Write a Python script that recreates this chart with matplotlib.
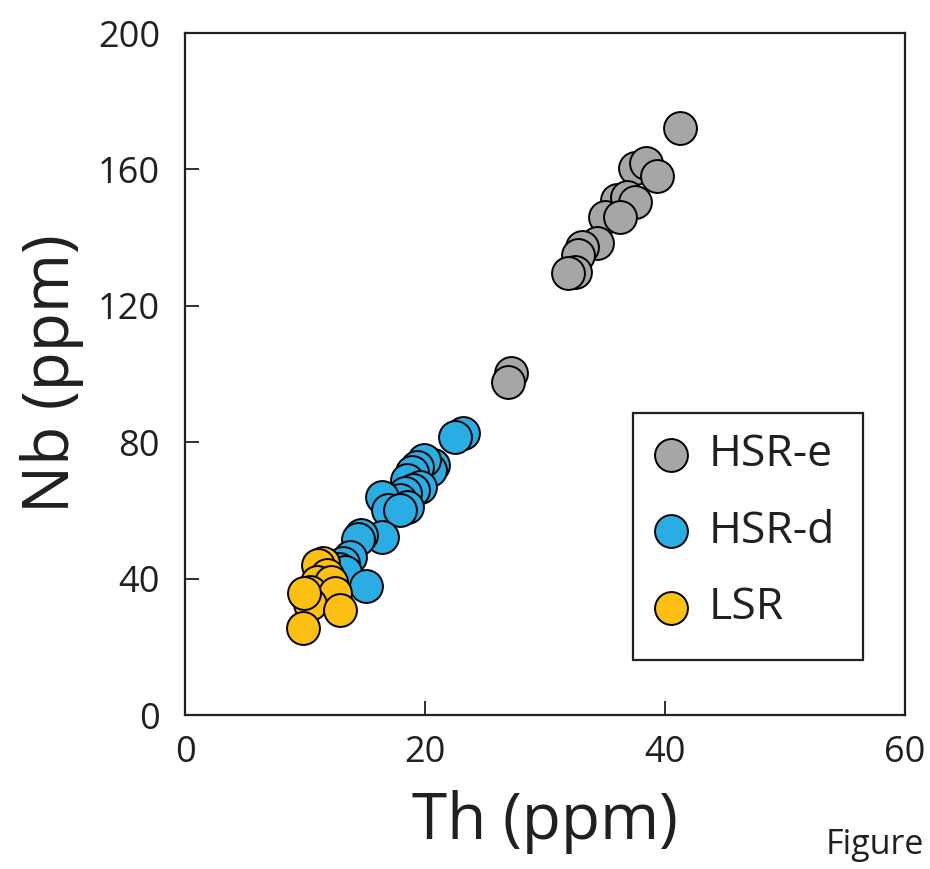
import matplotlib
matplotlib.use("Agg")
import matplotlib.pyplot as plt
from matplotlib.patches import Rectangle

plt.rcParams['font.family'] = ['Open Sans', 'DejaVu Sans']

# HSR-e
th_hsre = [41.25, 37.5, 38.4, 39.3, 36.0, 36.8, 37.5, 35.0, 36.25, 34.3, 33.1, 32.75, 32.5, 31.9, 27.2, 26.9]
nb_hsre = [172.2, 160.3, 161.8, 158.1, 151.0, 152.0, 150.5, 146.1, 146.1, 138.3, 137.3, 134.9, 130.0, 129.6, 100.2, 97.7]

# HSR-d
th_hsrd = [23.2, 22.5, 20.7, 20.4, 19.9, 19.3, 18.9, 18.5, 19.6, 19.0, 18.3, 17.9, 18.5, 16.4, 16.9, 17.9,
           16.4, 14.7, 14.4, 13.75, 13.2, 12.8, 13.3, 15.1]
nb_hsrd = [82.6, 81.6, 73.3, 71.8, 74.8, 72.8, 71.3, 68.9, 67.0, 66.0, 65.0, 63.0, 61.1, 64.0, 60.1, 60.1,
           52.3, 52.8, 51.8, 46.4, 44.5, 43.0, 42.0, 37.8]

# LSR
th_lsr = [11.5, 11.1, 11.8, 11.0, 12.2, 10.4, 12.5, 10.4, 12.9, 9.8, 9.9]
nb_lsr = [44.5, 44.0, 41.0, 39.1, 39.1, 36.2, 35.7, 32.7, 30.8, 25.6, 35.8]

fig = plt.figure(figsize=(9.3, 8.69), dpi=100)
ax = fig.add_axes([0.199, 0.177, 0.774, 0.785])

ms = 560
ax.scatter(th_hsre, nb_hsre, s=ms, c='#a6a6a6', edgecolors='black', linewidths=1.4, label='HSR-e', zorder=3)
ax.scatter(th_hsrd, nb_hsrd, s=ms, c='#2aade3', edgecolors='black', linewidths=1.4, label='HSR-d', zorder=3)
ax.scatter(th_lsr, nb_lsr, s=ms, c='#fcc012', edgecolors='black', linewidths=1.4, label='LSR', zorder=3)

ax.set_xlim(0, 60)
ax.set_ylim(0, 200)
ax.set_xticks([0, 20, 40, 60])
ax.set_yticks([0, 40, 80, 120, 160, 200])
ax.tick_params(direction='in', length=10, width=1.3, labelsize=26, colors='#231f20', pad=18)
ax.tick_params(axis='x', pad=14)
for sp in ax.spines.values():
    sp.set_linewidth(1.6)
    sp.set_color('#231f20')

ax.set_xlabel('Th (ppm)', fontsize=46, color='#231f20', labelpad=14)
ax.set_ylabel('Nb (ppm)', fontsize=46, color='#231f20', labelpad=10)

# legend box drawn separately so its size matches the original
ax.add_patch(Rectangle((0.622, 0.081), 0.32, 0.362, transform=ax.transAxes, fill=False,
                       edgecolor='#231f20', linewidth=1.6, zorder=4))
leg = ax.legend(loc='upper left', bbox_to_anchor=(0.622, 0.443), fontsize=32, frameon=False,
                borderpad=0.45, labelspacing=0.72, handlelength=0.8,
                handletextpad=0.45, borderaxespad=0)
for t in leg.get_texts():
    t.set_color('#231f20')

fig.text(826 / 930, 1 - 845 / 869, 'Figure', fontsize=24.5, color='#231f20', va='center', ha='left')

fig.savefig('out.png', dpi=100)
